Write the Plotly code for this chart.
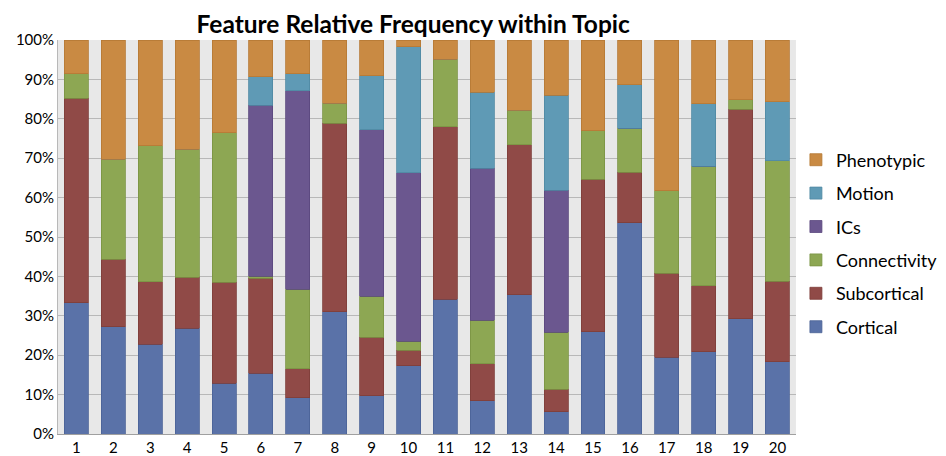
import plotly.graph_objects as go

topics = [str(i) for i in range(1, 21)]

cortical     = [33.3, 27.2, 22.8, 26.8, 12.9, 15.4,  9.2, 31.0,  9.7, 17.3, 34.2,  8.4, 35.3,  5.7, 26.0, 53.6, 19.5, 20.9, 29.2, 18.4]
subcortical  = [51.9, 17.1, 15.9, 13.0, 25.6, 24.1,  7.4, 47.9, 14.8,  3.9, 43.8,  9.4, 38.1,  5.6, 38.6, 12.8, 21.3, 16.7, 53.2, 20.4]
connectivity = [ 6.2, 25.4, 34.5, 32.5, 38.0,  0.5, 20.1,  5.0, 10.5,  2.4, 17.1, 11.1,  8.8, 14.5, 12.4, 11.2, 21.0, 30.4,  2.4, 30.5]
ics          = [ 0.0,  0.0,  0.0,  0.0,  0.0, 43.5, 50.4,  0.0, 42.2, 42.7,  0.0, 38.5,  0.0, 36.1,  0.0,  0.0,  0.0,  0.0,  0.0,  0.0]
motion       = [ 0.0,  0.0,  0.0,  0.0,  0.0,  7.2,  4.3,  0.0, 13.7, 32.0,  0.0, 19.3,  0.0, 24.1,  0.0, 11.0,  0.0, 15.8,  0.0, 15.0]
phenotypic   = [ 8.6, 30.3, 26.8, 27.7, 23.5,  9.3,  8.6, 16.1,  9.1,  1.7,  4.9, 13.3, 17.8, 14.0, 23.0, 11.4, 38.2, 16.2, 15.2, 15.7]

series = [
    ("Cortical", cortical, "#5A72A8", "#4a6296"),
    ("Subcortical", subcortical, "#904A47", "#7d3d3a"),
    ("Connectivity", connectivity, "#8DA753", "#7a9444"),
    ("ICs", ics, "#6B578F", "#5a477d"),
    ("Motion", motion, "#5F9AB5", "#4f88a2"),
    ("Phenotypic", phenotypic, "#C98A43", "#b57834"),
]

fig = go.Figure()
n = len(series)
for i, (name, vals, color, line) in enumerate(series):
    fig.add_trace(go.Bar(
        name=name, x=topics, y=vals, legendgroup=name, legendrank=n - i,
        marker=dict(color=color, line=dict(color=line, width=0.8)),
    ))

font_family = "Lato, Open Sans, sans-serif"
fig.update_layout(
    barmode="stack",
    barnorm="percent",
    bargap=0.35,
    width=938, height=448,
    margin=dict(l=50, r=3, t=32, b=22),
    paper_bgcolor="white",
    plot_bgcolor="#e8e8e8",
    title=dict(text="<b>Feature Relative Frequency within Topic</b>",
               x=0.432, xanchor="center", y=0.983, yanchor="top",
               font=dict(family=font_family, size=24.5, color="black")),
    legend=dict(traceorder="grouped", xref="container", yref="container",
                x=0.84, xanchor="left", y=0.702, yanchor="top",
                font=dict(family=font_family, size=18, color="black"),
                tracegroupgap=7, itemwidth=30, bgcolor="rgba(0,0,0,0)"),
    font=dict(family=font_family, size=15, color="black"),
)
fig.update_yaxes(range=[0, 100], dtick=10, ticksuffix="%", showgrid=True,
                 gridcolor="#b8b8b8", gridwidth=1, zeroline=False, automargin=False,
                 showline=True, linecolor="#b8b8b8", ticks="", ticklen=0,
                 tickfont=dict(size=15))
fig.update_xaxes(showline=True, linecolor="#a0a0a0", ticks="", automargin=False,
                 tickfont=dict(size=15))

fig.write_html("out.html")
